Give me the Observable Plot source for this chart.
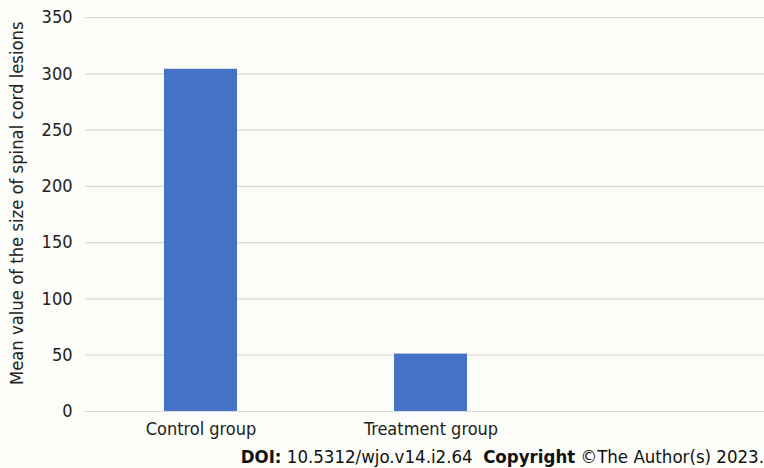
<!DOCTYPE html>
<html>
<head>
<meta charset="utf-8">
<script src="https://cdn.jsdelivr.net/npm/d3@7"></script>
<script src="https://cdn.jsdelivr.net/npm/@observablehq/plot@0.6"></script>
<style>
  html, body { margin: 0; padding: 0; background: #fcfcf8; }
  body { width: 764px; height: 468px; overflow: hidden; font-family: "DejaVu Sans Condensed", "DejaVu Sans", sans-serif; color: #222; }
  #chart svg { display: block; background: transparent; }
  #caption { height: 23px; line-height: 23px; font-size: 18.5px; text-align: right; white-space: pre; color: #111; }
  #caption b { font-weight: bold; }
</style>
</head>
<body>
<div id="chart"></div>
<div id="caption"><b>DOI:</b> 10.5312/wjo.v14.i2.64  <b>Copyright</b> ©The Author(s) 2023.</div>
<script>
const categories = ["Control group", "Treatment group"];
const values = [304, 51];
const yTicks = [0, 50, 100, 150, 200, 250, 300, 350];
const yLabel = "Mean value of the size of spinal cord lesions";

const data = categories.map((c, i) => ({category: c, value: values[i]}));

const chart = Plot.plot({
  width: 764,
  height: 445,
  marginTop: 17,
  marginBottom: 34,
  marginLeft: 85,
  marginRight: 0,
  style: {fontFamily: "'DejaVu Sans Condensed', 'DejaVu Sans', sans-serif", fontSize: "18px", color: "#222", background: "transparent"},
  x: {domain: categories, range: [85, 545], paddingInner: 0.683, paddingOuter: 0.3415, label: null},
  y: {domain: [0, 350], ticks: yTicks, label: null},
  marks: [
    Plot.ruleY(yTicks, {stroke: "#d9d9d9", strokeWidth: 1.2}),
    Plot.barY(data, {x: "category", y: "value", fill: "#4472c4"}),
    Plot.axisY({ticks: yTicks, tickSize: 0, tickPadding: 13, label: null, fontSize: 18}),
    Plot.axisX({tickSize: 0, tickPadding: 11, label: null, fontSize: 18}),
    Plot.text([185], {y: d => d, frameAnchor: "left", text: () => yLabel, textAnchor: "middle", lineAnchor: "middle", dx: -68, rotate: -90, fontSize: 18.3, fill: "#222"})
  ]
});
document.getElementById("chart").appendChild(chart);
</script>
</body>
</html>
